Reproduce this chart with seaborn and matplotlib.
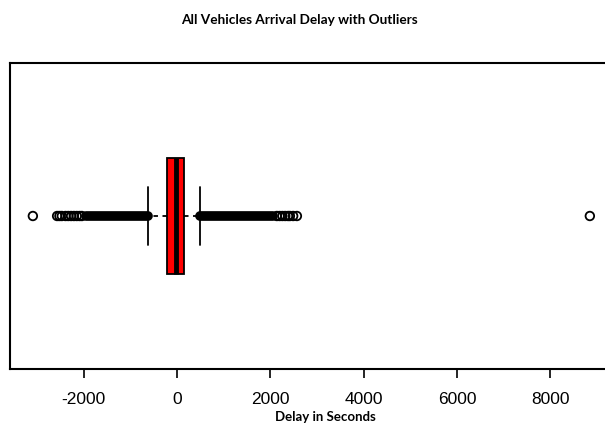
import numpy as np
import pandas as pd
import matplotlib
matplotlib.use("Agg")
import matplotlib.pyplot as plt
import seaborn as sns

# five-number summary (seconds)
box_stats = [-622, -214, -21, 150, 493]   # low whisker, Q1, median, Q3, high whisker

# individual outliers that can be told apart
low_outliers = [-3090, -2570, -2520, -2470, -2390, -2330, -2270, -2210, -2150, -2090, -2040]
high_outliers = [2140, 2200, 2260, 2320, 2380, 2420, 2490, 2570, 8850]

# ranges where outliers are so dense they merge into a solid bar
dense_start = [-1950, 493]
dense_end = [-622, 2060]

x_ticks = [-2000, 0, 2000, 4000, 6000, 8000]

sns.set_theme(style="white")
plt.rcParams["font.family"] = ["Liberation Sans", "DejaVu Sans"]
plt.rcParams["text.color"] = "black"

fig = plt.figure(figsize=(6.05, 4.25), dpi=100)
ax = fig.add_axes([10 / 605, 56 / 425, 602 / 605, 306 / 425])

sns.boxplot(
    x=box_stats, ax=ax, orient="h", width=0.376, whis=1.5,
    color="#ff0000", linecolor="black", linewidth=1.3, saturation=1,
    showfliers=False,
    whiskerprops=dict(linestyle=(0, (2.5, 2.5)), linewidth=1.3),
    medianprops=dict(linewidth=3.5, color="black"),
)

# merged outlier runs
ax.hlines([0] * len(dense_start), dense_start, dense_end,
          color="black", linewidth=7, capstyle="round", zorder=3)

outliers = pd.DataFrame({"delay": low_outliers + high_outliers})
outliers["row"] = 0
sns.scatterplot(data=outliers, x="delay", y="row", ax=ax, marker="o", s=38,
                facecolor="none", edgecolor="black", linewidth=1.3, zorder=4)

ax.set_ylim(0.5, -0.5)
ax.set_xlim(-3580, 9325)
ax.set_yticks([])
ax.set_ylabel("")
ax.set_xlabel("")
ax.set_xticks(x_ticks)
ax.set_xticklabels([str(t) for t in x_ticks])
ax.tick_params(axis="x", bottom=True, length=6.5, width=1.2, color="black",
               labelsize=12.5, pad=10, labelcolor="black")
for side in ["left", "top", "bottom", "right"]:
    ax.spines[side].set_color("black")
    ax.spines[side].set_linewidth(1.5)

fig.text(299 / 605, 1 - 20 / 425, "All Vehicles Arrival Delay with Outliers",
         ha="center", va="center", fontsize=9.8, fontweight="bold",
         color="black", family=["Lato", "DejaVu Sans"])
fig.text(325 / 605, 1 - 421 / 425, "Delay in Seconds",
         ha="center", va="baseline", fontsize=9.5, fontweight="bold",
         color="black", family=["Lato", "DejaVu Sans"])

fig.savefig("out.png", dpi=100)
